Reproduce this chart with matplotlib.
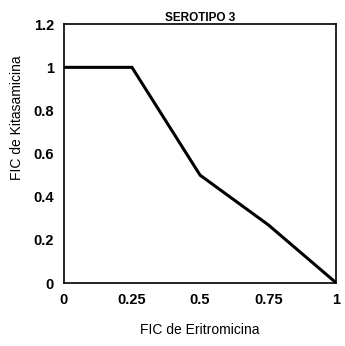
import matplotlib.pyplot as plt

# isobologram points: FIC eritromicina vs FIC kitasamicina
fic_eri = [0, 0.25, 0.5, 0.75, 1]
fic_kit = [1, 1, 0.5, 0.27, 0]

xticks = [0, 0.25, 0.5, 0.75, 1]
xtick_labels = ["0", "0.25", "0.5", "0.75", "1"]
yticks = [0, 0.2, 0.4, 0.6, 0.8, 1, 1.2]
ytick_labels = ["0", "0.2", "0.4", "0.6", "0.8", "1", "1.2"]

plt.rcParams['font.family'] = ['Liberation Sans Narrow', 'Liberation Sans', 'DejaVu Sans']

fig = plt.figure(figsize=(3.45, 3.46), dpi=100)
ax = fig.add_axes([0.185, 0.182, 0.79, 0.748])

ax.plot(fic_eri, fic_kit, color='black', lw=2.2, solid_joinstyle='miter')

ax.set_xlim(0, 1)
ax.set_ylim(0, 1.2)
ax.set_xticks(xticks)
ax.set_xticklabels(xtick_labels, fontsize=10.5, fontweight='bold')
ax.set_yticks(yticks)
ax.set_yticklabels(ytick_labels, fontsize=10.5, fontweight='bold')
ax.tick_params(length=0, pad=7)

for s in ax.spines.values():
    s.set_linewidth(1.2)
    s.set_linestyle((0, (6, 1)))

ax.set_title("SEROTIPO 3", fontsize=8.5, fontweight='bold', pad=2,
             family=['Liberation Sans', 'DejaVu Sans'])
ax.set_xlabel("FIC de Eritromicina", fontsize=10, labelpad=12,
              family=['Liberation Sans', 'DejaVu Sans'])
ax.set_ylabel("FIC de Kitasamicina", fontsize=10, labelpad=10,
              family=['Liberation Sans', 'DejaVu Sans'])
ax.yaxis.set_label_coords(-0.145, 0.64)

fig.savefig("out.png", dpi=100)
